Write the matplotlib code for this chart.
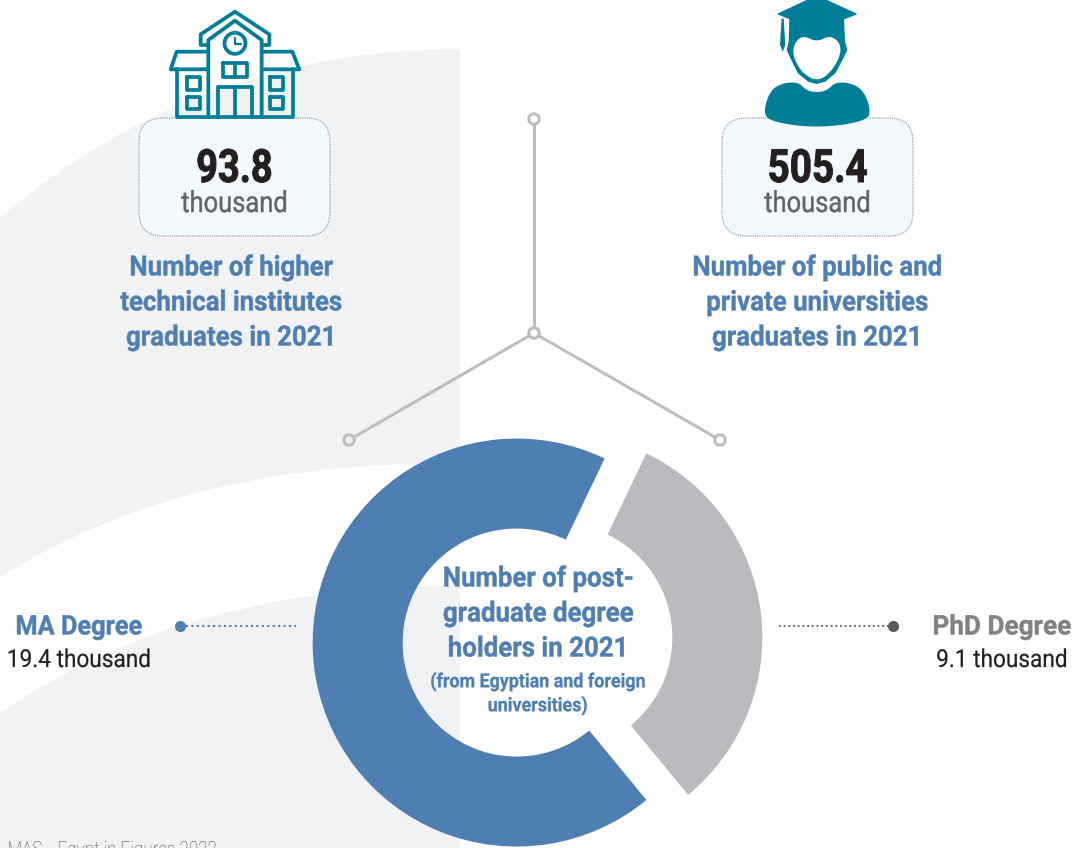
import numpy as np
import matplotlib
matplotlib.use('Agg')
import matplotlib.pyplot as plt
import matplotlib.patheffects as pe
from matplotlib.patches import Circle, FancyBboxPatch, PathPatch, Polygon
from matplotlib.path import Path
from matplotlib.transforms import Affine2D

W, H = 1073, 848

# data
degrees = ['PhD Degree', 'MA Degree']
degree_values = [9.1, 19.4]
degree_labels = ['9.1 thousand', '19.4 thousand']
degree_colors = ['#BABBBE', '#4E7EB2']
graduates = ['93.8', '505.4']
unit = 'thousand'
grad_titles = ['Number of higher\ntechnical institutes\ngraduates in 2021',
               'Number of public and\nprivate universities\ngraduates in 2021']
center_title = ['Number of post-', 'graduate degree', 'holders in 2021']
center_sub = ['(from Egyptian and foreign', 'universities)']
footer = 'MAS _ Egypt in Figures 2022'

BLUE = '#4E7EB2'
TEAL = '#007E97'
BG = '#F1F2F4'
LINE = '#BDBEC0'


class Squeeze(pe.AbstractPathEffect):
    # the reference font is condensed, no such family here
    def __init__(self, sx, stroke=0.0):
        super().__init__()
        self.sx = sx
        self.stroke = stroke

    def draw_path(self, renderer, gc, tpath, affine, rgbFace=None):
        bb = tpath.get_extents()
        mid = (bb.x0 + bb.x1) / 2
        t = Affine2D().translate(-mid, 0).scale(self.sx, 1).translate(mid, 0) + affine
        gc0 = renderer.new_gc()
        gc0.copy_properties(gc)
        if self.stroke:
            gc0.set_foreground(rgbFace)
            gc0.set_linewidth(self.stroke)
        renderer.draw_path(gc0, tpath, t, rgbFace)
        gc0.restore()


def Y(y):
    return H - y


def smooth(pts, n=3):
    pts = np.asarray(pts, dtype=float)
    for _ in range(n):
        nxt = np.roll(pts, -1, axis=0)
        pts = np.column_stack([0.75 * pts + 0.25 * nxt, 0.25 * pts + 0.75 * nxt]).reshape(-1, 2)
    return pts


def label(x, y, s, size, color, sx, weight='normal', stroke=0.0):
    t = ax.text(x, Y(y), s, ha='center', va='center', fontsize=size, fontweight=weight, color=color,
                family='Roboto', zorder=8)
    t.set_path_effects([Squeeze(sx, stroke)])
    return t


fig = plt.figure(figsize=(W / 100, H / 100), dpi=100)
ax = fig.add_axes([0, 0, 1, 1])

# background bands
top = [(0, 218), (130, 105), (290, 49), (460, 49), (460, 848), (0, 848), (0, 218)]
top_codes = [Path.MOVETO, Path.CURVE4, Path.CURVE4, Path.CURVE4, Path.LINETO, Path.LINETO, Path.CLOSEPOLY]
ax.add_patch(PathPatch(Path([(x, Y(y)) for x, y in top], top_codes), fc=BG, ec='none', zorder=1))
band = [(0, 577), (140, 490), (290, 463), (460, 463), (460, 586), (280, 586), (130, 625), (0, 713), (0, 577)]
band_codes = [Path.MOVETO, Path.CURVE4, Path.CURVE4, Path.CURVE4, Path.LINETO, Path.CURVE4, Path.CURVE4, Path.CURVE4,
              Path.CLOSEPOLY]
ax.add_patch(PathPatch(Path([(x, Y(y)) for x, y in band], band_codes), fc='white', ec='none', zorder=1))

# donut
wedges, _ = ax.pie(degree_values, colors=degree_colors, startangle=-50.5, center=(537.5, Y(640)),
                   radius=204, explode=[21, 21], frame=False,
                   wedgeprops=dict(width=90, linewidth=0))
for w in wedges:
    w.set_zorder(3)

# connector
for x, y in [(349, 440), (720, 440), (534, 119)]:
    ax.plot([534, x], [Y(333), Y(y)], color=LINE, lw=2.2, zorder=2, solid_capstyle='butt')
for (x, y), fc in zip([(349, 440), (720, 440), (534, 119), (534, 333)], [BG, 'white', 'white', 'white']):
    ax.add_patch(Circle((x, Y(y)), 5.2, fc=fc, ec=LINE, lw=2.2, zorder=4))

# value boxes
for x0 in (139, 722):
    ax.add_patch(FancyBboxPatch((x0 + 24, Y(236) + 24), 191 - 48, 118 - 48, boxstyle='round,pad=24,rounding_size=24',
                                fc='#F2F9FD', ec='#8F9093', lw=0.8, ls=(0, (1, 1)), zorder=2))


# school icon
def zs(pts):
    return [(130 + px / 3, Y(py / 3)) for px, py in pts]


def sline(pts, lw=2.7):
    xy = np.array(zs(pts))
    ax.plot(xy[:, 0], xy[:, 1], color=TEAL, lw=lw, zorder=5, solid_joinstyle='round', solid_capstyle='round')


sline([(232, 135), (212, 135), (212, 103), (315, 35), (418, 103), (418, 135), (398, 135)])
sline([(235, 350), (235, 120), (315, 62), (395, 120), (395, 350)])
sline([(235, 155), (140, 155), (122, 208), (235, 208)])
sline([(395, 155), (487, 155), (508, 208), (395, 208)])
sline([(140, 208), (140, 350), (488, 350), (488, 208)])
sline([(278, 188), (352, 188), (352, 232), (278, 232), (278, 188)])
sline([(315, 188), (315, 232)])
sline([(265, 350), (265, 260), (365, 260), (365, 350)])
sline([(315, 260), (315, 350)])
for xa, ya in [(170, 232), (170, 290), (420, 232), (420, 290)]:
    sline([(xa, ya), (xa + 40, ya), (xa + 40, ya + 38), (xa, ya + 38), (xa, ya)])
cx, cy = zs([(315, 130)])[0]
ax.add_patch(Circle((cx, cy), 10.5, fc='none', ec=TEAL, lw=2.7, zorder=5))
sline([(315, 115), (315, 132), (332, 132)], lw=1.6)


# graduate icon
def zp(pts):
    return [(710 + px / 3, Y(py / 3)) for px, py in pts]


body = [(162, 340), (172, 290), (200, 254), (262, 244), (290, 272), (320, 277), (350, 272), (380, 244),
        (440, 254), (470, 290), (482, 340), (465, 360), (400, 375), (320, 381), (240, 375), (178, 360)]
ax.add_patch(Polygon(zp(smooth(body, 2)), fc=TEAL, ec='none', zorder=5))
head = [(240, 55), (400, 55), (403, 125), (410, 150), (396, 178), (375, 218), (345, 243), (320, 250),
        (295, 243), (265, 218), (245, 178), (232, 150), (238, 125)]
ax.add_patch(Polygon(zp(head), fc=TEAL, ec=TEAL, lw=1, joinstyle='round', zorder=5))
face = [(254, 128), (280, 106), (320, 126), (360, 106), (390, 128), (392, 165), (367, 210), (340, 234),
        (320, 239), (300, 234), (270, 210), (248, 165)]
ax.add_patch(Polygon(zp(smooth(face, 2)), fc='white', ec='none', zorder=6))
ax.add_patch(Polygon(zp([(205, 42), (320, -12), (438, 42), (320, 88)]), fc=TEAL, ec=TEAL, lw=1,
                     joinstyle='round', zorder=7))
ax.add_patch(Polygon(zp([(215, 55), (221, 55), (226, 135), (218, 155), (210, 135)]), fc=TEAL, ec='none', zorder=7))

# texts
for xc, val, title, xt, sv in zip((234.5, 817.5), graduates, grad_titles, (231, 817), (0.83, 0.845)):
    label(xc, 169, val, 33, '#231F20', sv, 'bold', 0.7)
    label(xc, 204, unit, 21, '#636466', 0.875, stroke=0.3)
    for i, line in enumerate(title.split('\n')):
        label(xt, 268 + 35 * i, line, 20, BLUE, 0.93, 'bold', 0.3)

for i, line in enumerate(center_title):
    label(538, 579 + 35 * i, line, 20, BLUE, 0.93, 'bold', 0.3)
for i, line in enumerate(center_sub):
    label(538, 682 + 24 * i, line, 14, BLUE, 0.92, 'bold', 0.2)

# side labels
label(79, 627, degrees[1], 19.5, BLUE, 0.935, 'bold', 0.3)
label(79, 660, degree_labels[1], 17.8, '#231F20', 0.915, stroke=0.15)
label(1002, 627, degrees[0], 19.5, '#808285', 0.965, 'bold', 0.3)
label(1002, 660, degree_labels[0], 17.8, '#231F20', 0.915, stroke=0.15)

ax.plot([186, 296], [Y(626), Y(626)], color=BLUE, lw=1.5, ls=(0, (1, 1.6)), zorder=4)
ax.plot([180], [Y(626)], 'o', color=BLUE, ms=8, mew=0, zorder=4)
ax.plot([779, 888], [Y(626), Y(626)], color='#58595B', lw=1.3, ls=(0, (1, 1.6)), zorder=4)
ax.plot([893], [Y(626)], 'o', color='#58595B', ms=8, mew=0, zorder=4)

# footer, cut by the page edge as in the reference
ft = ax.text(112.5, Y(841), footer, ha='center', va='top', fontsize=15, fontweight='light', color='#4D4E50',
             family='Roboto', zorder=8)
ft.set_path_effects([Squeeze(0.82)])

ax.set_xlim(0, W)
ax.set_ylim(0, H)
ax.set_aspect('auto')
ax.axis('off')
fig.savefig('out.png', dpi=100)
